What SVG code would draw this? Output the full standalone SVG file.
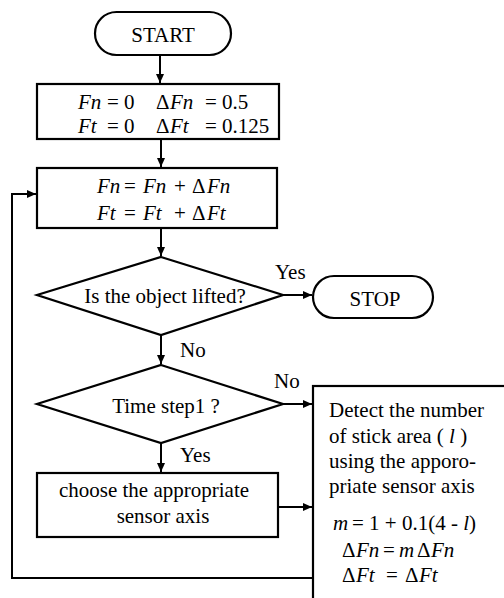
<svg xmlns="http://www.w3.org/2000/svg" width="504" height="598" viewBox="0 0 504 598" font-family="'Liberation Serif', Tinos, 'Times New Roman', serif" font-size="21">
<style>
.s{fill:none;stroke:#000;stroke-width:2}
.b{fill:#fff;stroke:#000;stroke-width:2.2}
text{fill:#000}
.c{text-anchor:middle}
.i{font-style:italic}
</style>
<defs>
<marker id="ah" markerUnits="userSpaceOnUse" markerWidth="10" markerHeight="10" refX="9" refY="5" orient="auto">
<path d="M0,1 L9,5 L0,9 Z" fill="#000"/>
</marker>
</defs>
<g id="connectors">
<path class="s" d="M160,55 V83" marker-end="url(#ah)"/>
<path class="s" d="M161,139 V167" marker-end="url(#ah)"/>
<path class="s" d="M161,228 V256" marker-end="url(#ah)"/>
<path class="s" d="M283,295 H312" marker-end="url(#ah)"/>
<path class="s" d="M161,335 V364" marker-end="url(#ah)"/>
<path class="s" d="M283,404 H312" marker-end="url(#ah)"/>
<path class="s" d="M161,443 V472" marker-end="url(#ah)"/>
<path class="s" d="M278,507 H312" marker-end="url(#ah)"/>
<path class="s" d="M313,578 H12 V194 H36" marker-end="url(#ah)"/>
<text x="275" y="279">Yes</text>
<text x="180" y="357">No</text>
<text x="274" y="388">No</text>
<text x="180" y="462">Yes</text>
</g>
<g id="start">
<rect class="b" x="95" y="12" width="136" height="43" rx="21.5"/>
<text class="c" x="163" y="42">START</text>
</g>
<g id="init">
<rect class="b" x="37" y="84" width="242" height="55"/>
<text y="109"><tspan class="i" x="78">Fn</tspan><tspan x="107">= 0</tspan><tspan x="156">Δ</tspan><tspan class="i" x="170">Fn</tspan><tspan x="205">= 0.5</tspan></text>
<text y="133"><tspan class="i" x="78">Ft</tspan><tspan x="107">= 0</tspan><tspan x="156">Δ</tspan><tspan class="i" x="170">Ft</tspan><tspan x="205">= 0.125</tspan></text>
</g>
<g id="update">
<rect class="b" x="37" y="168" width="240" height="60"/>
<text y="193"><tspan class="i" x="97">Fn</tspan><tspan x="124">=</tspan><tspan class="i" x="143">Fn</tspan><tspan x="174">+</tspan><tspan x="192">Δ</tspan><tspan class="i" x="207">Fn</tspan></text>
<text y="220"><tspan class="i" x="97">Ft</tspan><tspan x="124">=</tspan><tspan class="i" x="143">Ft</tspan><tspan x="174">+</tspan><tspan x="192">Δ</tspan><tspan class="i" x="207">Ft</tspan></text>
</g>
<g id="lifted">
<path class="b" d="M161,257 L283,295 L161,335 L37,295 Z"/>
<text class="c" x="165" y="303">Is the object lifted?</text>
</g>
<g id="stop">
<rect class="b" x="313" y="276" width="120" height="42" rx="21"/>
<text class="c" x="375" y="306">STOP</text>
</g>
<g id="timestep">
<path class="b" d="M161,365 L283,404 L161,443 L37,404 Z"/>
<text class="c" x="166" y="413">Time step1 ?</text>
</g>
<g id="choose">
<rect class="b" x="37" y="473" width="241" height="64"/>
<text class="c" x="154" y="497">choose the appropriate</text>
<text class="c" x="163" y="523">sensor axis</text>
</g>
<g id="detect">
<rect class="b" x="313" y="386" width="210" height="230"/>
<text x="329" y="417">Detect the number</text>
<text x="329" y="443">of stick area ( <tspan class="i">l</tspan> )</text>
<text x="329" y="468">using the apporo-</text>
<text x="329" y="493">priate sensor axis</text>
<text y="530"><tspan class="i" x="333">m</tspan><tspan x="352">= 1 + 0.1(4 - </tspan><tspan class="i">l</tspan><tspan>)</tspan></text>
<text y="557"><tspan x="342">Δ</tspan><tspan class="i" x="356">Fn</tspan><tspan x="383">=</tspan><tspan class="i" x="399">m</tspan><tspan x="417">Δ</tspan><tspan class="i" x="431">Fn</tspan></text>
<text y="582"><tspan x="342">Δ</tspan><tspan class="i" x="356">Ft</tspan><tspan x="386">=</tspan><tspan x="405">Δ</tspan><tspan class="i" x="419">Ft</tspan></text>
</g>
</svg>
